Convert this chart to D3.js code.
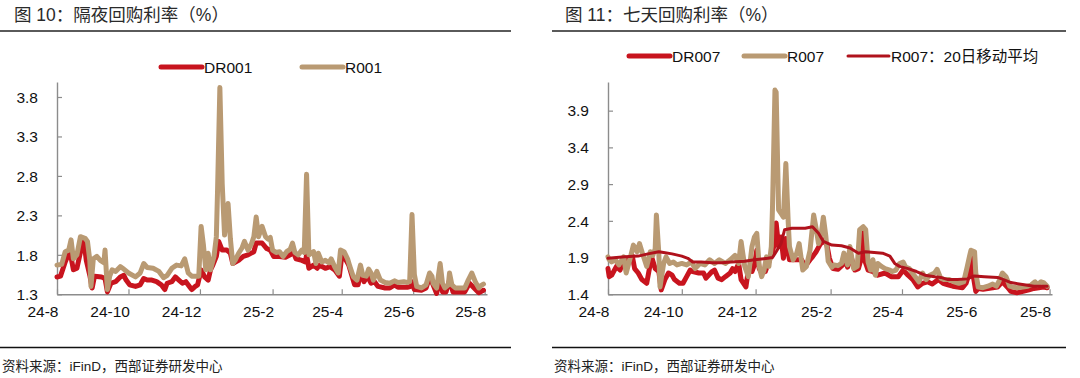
<!DOCTYPE html>
<html><head><meta charset="utf-8">
<script src="https://cdn.jsdelivr.net/npm/d3@7"></script>
<style>
body{margin:0;background:#fff;}
svg{display:block;font-family:"Liberation Sans","Noto Sans CJK SC",Arial,sans-serif;}
</style></head><body>
<svg id="c" width="1080" height="378"></svg>
<script>
// ---------- data ----------
const startDate = "2024-08-01";
const endDate = "2025-08-03";
const xTickDates = ["2024-08-01","2024-10-01","2024-12-01","2025-02-01","2025-04-01","2025-06-01","2025-08-01"];
const xTickLabels = ["24-8","24-10","24-12","25-2","25-4","25-6","25-8"];
const yTicksLeft = [1.3,1.8,2.3,2.8,3.3,3.8];
const yTicksRight = [1.4,1.9,2.4,2.9,3.4,3.9];

// day offsets from startDate, values in %
const dr001Day = [0,3,7,11,14,17,21,23,25,28,30,32,38,41,43,46,50,54,57,59,62,67,71,74,77,81,85,89,92,94,98,101,104,107,110,113,115,118,120,123,126,129,131,133,136,138,141,145,148,150,155,159,163,168,170,175,179,182,185,190,195,199,201,204,209,212,213,215,219,222,224,229,233,237,241,243,246,249,251,254,257,259,262,265,268,271,274,280,284,288,291,299,302,303,305,311,315,318,321,324,327,329,332,335,338,348,352,356,360,364];
const dr001 = [1.52,1.53,1.71,1.85,1.61,1.63,1.90,1.97,1.73,1.54,1.38,1.53,1.52,1.50,1.33,1.44,1.46,1.52,1.54,1.48,1.42,1.40,1.42,1.50,1.48,1.48,1.46,1.42,1.36,1.44,1.46,1.52,1.48,1.44,1.46,1.40,1.36,1.40,1.42,1.61,1.52,1.48,1.61,1.67,1.78,1.97,1.86,1.86,1.82,1.69,1.73,1.78,1.80,1.84,1.95,1.95,1.88,1.86,1.78,1.78,1.77,1.80,1.86,1.75,1.73,1.71,1.80,1.63,1.67,1.63,1.67,1.63,1.65,1.61,1.53,1.78,1.75,1.67,1.57,1.42,1.42,1.59,1.46,1.53,1.44,1.46,1.40,1.38,1.38,1.42,1.39,1.39,1.40,1.46,1.36,1.35,1.38,1.52,1.42,1.31,1.52,1.33,1.33,1.48,1.33,1.33,1.44,1.38,1.32,1.35];

const r001Day = [0,4,7,10,12,14,17,20,24,26,28,29,31,34,37,40,41,43,45,47,50,54,57,61,67,71,74,77,82,87,91,94,98,102,106,109,112,115,121,123,125,127,129,131,134,136,137,139,141,143,146,148,150,152,155,158,160,163,166,168,170,172,175,178,180,182,184,187,190,193,196,199,201,203,206,209,211,213,215,219,221,223,226,229,232,234,237,240,242,245,248,250,253,256,259,261,264,266,268,270,273,276,280,284,288,291,296,299,301,303,305,307,311,315,318,320,321,324,327,329,331,334,335,337,340,348,351,354,357,360,361,364];
const r001 = [1.67,1.68,1.84,1.86,1.99,1.75,1.80,2.03,2.01,1.97,1.73,1.40,1.75,1.78,1.73,1.70,1.86,1.36,1.53,1.61,1.59,1.65,1.62,1.57,1.52,1.57,1.69,1.64,1.63,1.59,1.51,1.54,1.63,1.67,1.66,1.75,1.57,1.53,1.53,2.16,1.92,1.61,1.82,1.61,1.78,2.03,2.60,3.92,2.70,2.05,2.45,2.00,1.69,1.73,1.82,1.89,1.97,1.86,1.94,2.03,2.28,2.03,2.16,2.03,2.00,2.02,1.86,1.83,1.84,1.78,1.84,1.87,1.95,1.83,1.80,1.86,1.83,2.82,1.80,1.84,1.69,1.82,1.71,1.73,1.70,1.75,1.65,1.57,1.86,1.84,1.75,1.65,1.52,1.48,1.67,1.54,1.53,1.62,1.57,1.48,1.59,1.48,1.45,1.44,1.47,1.45,1.46,1.45,1.46,2.31,1.55,1.40,1.38,1.42,1.57,1.53,1.44,1.38,1.69,1.44,1.38,1.42,1.57,1.42,1.38,1.38,1.48,1.57,1.46,1.38,1.40,1.43];

const dr007Day = [0,1,3,7,10,13,17,20,22,25,28,32,36,39,42,44,47,50,53,55,59,62,65,68,70,75,79,81,86,88,91,94,97,101,103,105,108,110,114,116,119,121,123,125,127,130,132,135,137,139,141,143,145,147,150,156,160,163,167,169,172,175,178,181,183,186,190,194,196,198,201,204,207,209,211,212,215,219,223,229,234,240,244,248,252,256,260,264,268,273,277,281,285,289,293,296,299,301,302,304,306,310,314,318,322,326,330,333,338,343,348,352,356,360,363];
const dr007 = [1.75,1.64,1.66,1.78,1.73,1.89,1.87,1.93,1.75,1.69,1.60,1.55,1.91,1.75,1.71,1.46,1.60,1.69,1.66,1.60,1.55,1.55,1.64,1.73,1.71,1.69,1.69,1.62,1.71,1.73,1.62,1.60,1.64,1.69,1.75,1.71,1.82,1.60,1.50,1.73,1.71,1.80,2.00,1.75,1.69,1.71,1.80,1.93,2.05,2.37,2.05,2.18,1.89,2.16,1.87,1.87,1.87,1.78,1.87,1.91,1.98,2.07,2.14,2.07,1.89,1.75,1.74,1.80,1.91,1.77,1.91,1.73,1.75,1.87,2.23,1.87,1.73,1.71,1.66,1.69,1.64,1.64,1.73,1.66,1.60,1.50,1.55,1.57,1.54,1.60,1.55,1.53,1.51,1.50,1.49,1.55,1.71,1.89,1.64,1.44,1.48,1.47,1.48,1.49,1.50,1.57,1.50,1.44,1.42,1.44,1.46,1.48,1.49,1.50,1.49];

const r007Day = [0,1,3,6,9,13,15,18,21,24,26,29,32,35,37,39,40,42,43,46,48,51,54,57,61,65,69,72,76,80,84,88,92,97,101,105,108,110,113,116,119,121,123,125,127,129,131,133,135,136,138,139,141,143,145,147,149,150,153,156,158,161,164,167,170,172,174,176,178,180,182,185,187,190,193,195,198,200,203,206,208,211,213,215,217,219,221,223,226,229,233,235,238,241,244,246,249,253,257,260,263,266,270,272,275,278,282,286,290,294,297,299,300,303,304,306,310,314,318,321,323,326,329,332,334,338,343,347,350,353,355,358,360,363];
const r007 = [1.91,1.87,1.84,1.87,1.80,1.91,1.69,1.87,2.07,1.98,2.09,1.93,1.78,1.98,1.93,2.02,2.48,1.96,1.50,1.82,1.91,1.82,1.84,1.80,1.82,1.80,1.84,1.75,1.82,1.80,1.87,1.82,1.87,1.82,1.87,1.93,1.82,2.12,1.78,1.64,2.05,2.18,2.23,1.78,1.64,1.73,1.91,1.78,2.05,2.60,4.18,4.15,2.55,2.50,2.45,3.18,2.37,2.05,1.87,1.96,2.09,1.73,1.78,2.00,2.48,2.30,2.09,2.20,2.45,2.20,1.85,1.77,1.80,1.79,1.82,1.96,1.80,2.05,1.75,1.78,2.28,2.32,2.28,1.84,1.73,1.87,1.66,1.82,1.78,1.75,1.73,1.71,1.73,1.82,1.84,1.77,1.75,1.66,1.57,1.69,1.60,1.66,1.69,1.74,1.62,1.60,1.60,1.57,1.55,1.57,1.78,1.93,2.00,1.98,1.69,1.50,1.49,1.51,1.54,1.51,1.57,1.69,1.64,1.51,1.50,1.49,1.50,1.51,1.53,1.57,1.53,1.57,1.56,1.51];

const r007ma20Day = [0,14,25,33,42,46,53,61,66,70,77,86,94,102,113,121,132,136,139,143,146,152,163,169,174,178,185,193,200,207,213,220,227,233,237,241,248,255,262,270,275,281,289,297,303,311,322,327,333,344,352,363];
const r007ma20 = [1.89,1.91,1.92,1.95,1.98,1.97,1.95,1.92,1.89,1.84,1.84,1.83,1.83,1.84,1.85,1.87,1.89,1.90,1.98,2.09,2.28,2.30,2.30,2.32,2.23,2.12,2.07,2.06,2.03,1.96,1.98,1.97,1.96,1.92,1.82,1.78,1.75,1.71,1.66,1.64,1.63,1.60,1.60,1.61,1.65,1.64,1.63,1.60,1.56,1.53,1.51,1.51];

// ---------- drawing ----------
const svg = d3.select("#c");
const parse = d3.utcParse("%Y-%m-%d");
const t0 = parse(startDate), t1 = parse(endDate);
const toSeries = (days, vals) => days.map((d, i) => ({date: d3.utcDay.offset(t0, d), v: vals[i]}));

const RED = "#c8141e", TAN = "#b99a73", MA = "#b0121c", AXIS = "#8c8c8c";

function panel(cfg) {
  const g = svg.append("g");
  // title + rules
  g.append("text").attr("x", cfg.titleX).attr("y", 21).attr("font-size", 17.5)
    .attr("fill", "#2a2a2a").text(cfg.title);
  g.append("line").attr("x1", cfg.ruleX0).attr("x2", cfg.ruleX1).attr("y1", 31).attr("y2", 31)
    .attr("stroke", "#5a5a5a").attr("stroke-width", 2);
  g.append("line").attr("x1", cfg.ruleX0).attr("x2", cfg.ruleX1).attr("y1", 347.5).attr("y2", 347.5)
    .attr("stroke", "#111").attr("stroke-width", 1.5);
  g.append("text").attr("x", cfg.ruleX0 + 2).attr("y", 371).attr("font-size", 13.5)
    .attr("fill", "#222").text("资料来源：iFinD，西部证券研发中心");

  const x = d3.scaleUtc().domain([t0, t1]).range([cfg.x0, cfg.x1]);
  const y = d3.scaleLinear().domain(cfg.yDomain).range([294.3, 82]);

  // axes
  const xa = g.append("g").attr("transform", `translate(0,294.3)`)
    .call(d3.axisBottom(x).tickValues(xTickDates.map(parse))
      .tickFormat((d, i) => xTickLabels[i]).tickSizeInner(-5).tickSizeOuter(0).tickPadding(12));
  const ya = g.append("g").attr("transform", `translate(${cfg.x0},0)`)
    .call(d3.axisLeft(y).tickValues(cfg.yTicks).tickFormat(d3.format(".1f"))
      .tickSizeInner(-5).tickSizeOuter(0).tickPadding(19));
  [xa, ya].forEach(a => {
    a.select(".domain").attr("stroke", AXIS).attr("stroke-width", 1.4);
    a.selectAll(".tick line").attr("stroke", AXIS).attr("stroke-width", 1.2);
    a.selectAll(".tick text").attr("font-size", 15.5).attr("fill", "#111")
      .attr("font-family", "Liberation Sans, Arial, sans-serif");
  });
  xa.selectAll(".tick text").attr("text-anchor", "end").attr("dx", 1);
  ya.selectAll(".tick text").attr("dy", "0.34em");

  const line = d3.line().x(d => x(d.date)).y(d => y(d.v));
  cfg.series.forEach(s => {
    g.append("path").datum(toSeries(s.days, s.vals)).attr("d", line)
      .attr("fill", "none").attr("stroke", s.color).attr("stroke-width", s.w)
      .attr("stroke-linejoin", "round").attr("stroke-linecap", "round");
  });
  // legend
  cfg.series.forEach(s => {
    g.append("line").attr("x1", s.lx).attr("x2", s.lx + 41).attr("y1", cfg.legY).attr("y2", cfg.legY)
      .attr("stroke", s.color).attr("stroke-width", s.lw).attr("stroke-linecap", "round");
    g.append("text").attr("x", s.lx + 43).attr("y", cfg.legY + 5.5).attr("font-size", 15.5)
      .attr("fill", "#111").text(s.name);
  });
}

panel({
  title: "图 10：隔夜回购利率（%）", titleX: 14, ruleX0: 0, ruleX1: 511,
  x0: 57, x1: 487, yDomain: [1.3, 3.99], yTicks: yTicksLeft, legY: 67,
  series: [
    {name: "DR001", days: dr001Day, vals: dr001, color: RED, w: 5, lw: 5, lx: 161},
    {name: "R001", days: r001Day, vals: r001, color: TAN, w: 5, lw: 5, lx: 302}
  ]
});
panel({
  title: "图 11：七天回购利率（%）", titleX: 565, ruleX0: 552, ruleX1: 1066,
  x0: 608, x1: 1052, yDomain: [1.4, 4.29], yTicks: yTicksRight, legY: 56,
  series: [
    {name: "DR007", days: dr007Day, vals: dr007, color: RED, w: 5, lw: 5, lx: 629},
    {name: "R007", days: r007Day, vals: r007, color: TAN, w: 5, lw: 5, lx: 744},
    {name: "R007：20日移动平均", days: r007ma20Day, vals: r007ma20, color: MA, w: 3, lw: 3, lx: 848}
  ]
});
</script>
</body></html>
